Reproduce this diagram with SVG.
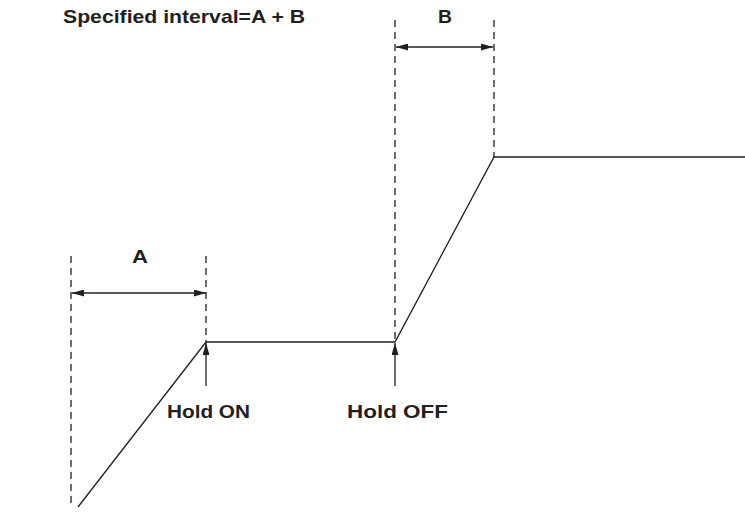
<svg xmlns="http://www.w3.org/2000/svg" width="745" height="513" viewBox="0 0 745 513">
<style>
.ln{stroke:#231f20;stroke-width:1.3;fill:none}
.dash{stroke:#231f20;stroke-width:1.3;fill:none;stroke-dasharray:7 5}
.t{font-family:"Liberation Sans",Arial,sans-serif;font-weight:bold;font-size:18.5px;fill:#231f20}
</style>
<defs>
<marker id="ah" viewBox="0 0 12 7" refX="12" refY="3.5" markerWidth="12" markerHeight="7" markerUnits="userSpaceOnUse" orient="auto-start-reverse">
<path d="M0,0 L12,3.5 L0,7 Z" fill="#231f20"/>
</marker>
</defs>
<rect width="745" height="513" fill="#fff"/>
<g id="title"><text class="t" x="63" y="23" textLength="242" lengthAdjust="spacingAndGlyphs">Specified interval=A + B</text></g>
<g id="guides">
<line class="dash" x1="71" y1="256" x2="71" y2="506"/>
<line class="dash" x1="206" y1="256" x2="206" y2="342"/>
<line class="dash" x1="395" y1="20" x2="395" y2="341"/>
<line class="dash" x1="494" y1="20" x2="494" y2="157"/>
</g>
<g id="curve"><polyline class="ln" points="78,507 206,342 395,342 494,157 745,157"/></g>
<g id="connectors">
<line class="ln" x1="72" y1="293" x2="206" y2="293" marker-start="url(#ah)" marker-end="url(#ah)"/>
<line class="ln" x1="396" y1="47" x2="493" y2="47" marker-start="url(#ah)" marker-end="url(#ah)"/>
<line class="ln" x1="206" y1="386" x2="206" y2="343" marker-end="url(#ah)"/>
<line class="ln" x1="395" y1="386" x2="395" y2="343" marker-end="url(#ah)"/>
</g>
<g id="labelA"><text class="t" x="140" y="263" text-anchor="middle" textLength="16" lengthAdjust="spacingAndGlyphs">A</text></g>
<g id="labelB"><text class="t" x="445" y="23" text-anchor="middle" textLength="14" lengthAdjust="spacingAndGlyphs">B</text></g>
<g id="holdOn"><text class="t" x="167" y="418" textLength="83" lengthAdjust="spacingAndGlyphs">Hold ON</text></g>
<g id="holdOff"><text class="t" x="347" y="418" textLength="101" lengthAdjust="spacingAndGlyphs">Hold OFF</text></g>
</svg>
